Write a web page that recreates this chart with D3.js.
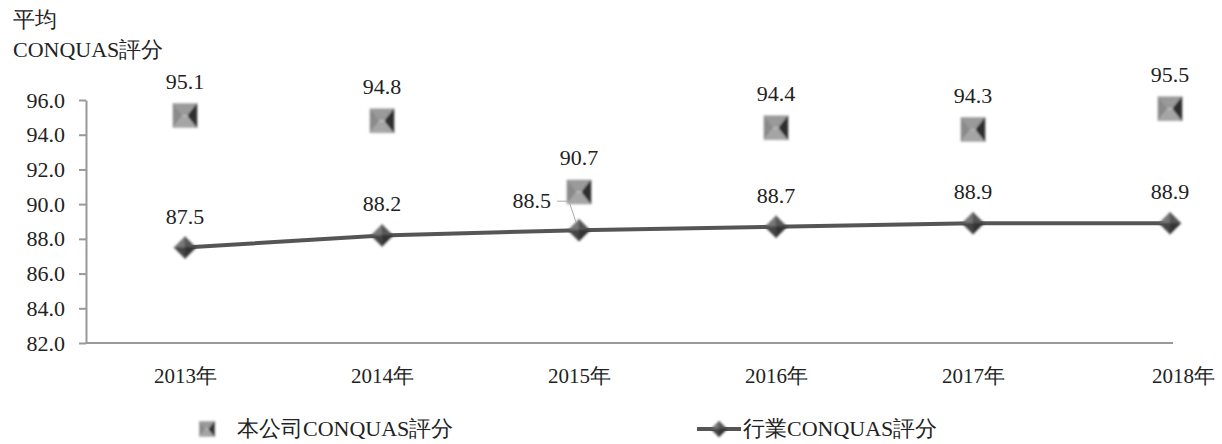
<!DOCTYPE html>
<html><head><meta charset="utf-8">
<script src="https://cdn.jsdelivr.net/npm/d3@7"></script>
<style>body{margin:0;background:#fff}</style>
</head><body>
<svg id="c" width="1222" height="444"></svg>
<script>
const years=["2013年","2014年","2015年","2016年","2017年","2018年"];
const companyScores=[95.1,94.8,90.7,94.4,94.3,95.5];
const industryScores=[87.5,88.2,88.5,88.7,88.9,88.9];
const yTicks=[82,84,86,88,90,92,94,96];
const titleLines=["平均","CONQUAS評分"];
const legendLabels=["本公司CONQUAS評分","行業CONQUAS評分"];

const FONT="'Liberation Serif'";
const svg=d3.select("#c");
const defs=svg.append("defs");
const blur=defs.append("filter").attr("id","soft").attr("x","-30%").attr("y","-30%").attr("width","160%").attr("height","160%");
blur.append("feGaussianBlur").attr("stdDeviation",0.8);

const axisLeftX=86, axisRightX=1173;
const x=d3.scalePoint().domain(years).range([185,1170]);
const y=d3.scaleLinear().domain([82,96]).range([343,100]);

// title
svg.append("g").selectAll("text").data(titleLines).join("text")
  .attr("x",13).attr("y",(d,i)=>27+i*30).attr("font-size",22).text(d=>d);

// y axis
const ya=svg.append("g").attr("transform",`translate(${axisLeftX},0)`)
  .call(d3.axisLeft(y).tickValues(yTicks).tickFormat(d3.format(".1f")).tickSize(7).tickSizeOuter(0).tickPadding(14));
ya.selectAll("path,line").attr("stroke","#999").attr("stroke-width",2);
ya.selectAll("text").attr("font-size",22);

// x axis
const xa=svg.append("g").attr("transform",`translate(0,${y(82)})`)
  .call(d3.axisBottom(x).tickSize(0).tickPadding(25));
xa.select(".domain").attr("d",`M${axisLeftX},0H${axisRightX}`).attr("stroke","#999").attr("stroke-width",2);
xa.selectAll("text").attr("font-size",21)
  .attr("dx",(d,i)=>i===years.length-1?13:0);

// industry line
const ind=years.map((d,i)=>({k:d,v:industryScores[i]}));
const com=years.map((d,i)=>({k:d,v:companyScores[i]}));
svg.append("path").datum(ind).attr("fill","none").attr("stroke","#555").attr("stroke-width",4)
  .attr("d",d3.line().x(d=>x(d.k)).y(d=>y(d.v)));

function diamond(g,cx,cy,r){
  const gg=g.append("g").attr("transform",`translate(${cx},${cy})`).attr("filter","url(#soft)");
  const faces=[
    {p:`M0,0L${-r},0L0,${-r}Z`,c:"#777"},
    {p:`M0,0L0,${-r}L${r},0Z`,c:"#555"},
    {p:`M0,0L${r},0L0,${r}Z`,c:"#333"},
    {p:`M0,0L0,${r}L${-r},0Z`,c:"#444"}];
  gg.selectAll("path").data(faces).join("path").attr("d",d=>d.p).attr("fill",d=>d.c).attr("stroke",d=>d.c).attr("stroke-width",0.5);
}
function pyramid(g,cx,cy,h){
  const gg=g.append("g").attr("transform",`translate(${cx},${cy})`).attr("filter","url(#soft)");
  const i=h*0.25;
  const faces=[
    {p:`M${-h},${-h}L${h},${-h}L${i},${-i*0.2}L${-i},${-i*0.2}Z`,c:"#9a9a9a"},
    {p:`M${-h},${-h}L${-i},${-i*0.2}L${-i},${i*0.2}L${-h},${h}Z`,c:"#8a8a8a"},
    {p:`M${-h},${h}L${-i},${i*0.2}L${i},${i*0.2}L${h},${h}Z`,c:"#a5a5a5"},
    {p:`M${h},${-h}L${i},${-i*0.2}L${i},${i*0.2}L${h},${h}Z`,c:"#2e2e2e"}];
  gg.selectAll("path").data(faces).join("path").attr("d",d=>d.p).attr("fill",d=>d.c).attr("stroke",d=>d.c).attr("stroke-width",0.5);
  gg.append("rect").attr("x",-i).attr("y",-i*0.2).attr("width",2*i).attr("height",i*0.4).attr("fill","#bbb");
}

const mk=svg.append("g");
ind.forEach(d=>diamond(mk,x(d.k),y(d.v),11));
com.forEach(d=>pyramid(mk,x(d.k),y(d.v),12));

// labels
const lab=svg.append("g");
lab.selectAll(".cl").data(com).join("text").attr("class","cl")
  .attr("x",d=>x(d.k)).attr("y",d=>y(d.v)-27).attr("text-anchor","middle").attr("font-size",22).text(d=>d.v.toFixed(1));
lab.selectAll(".il").data(ind).join("text").attr("class","il")
  .attr("x",d=>d.k==="2015年"?x(d.k)-28:x(d.k))
  .attr("y",d=>d.k==="2015年"?y(d.v)-22:y(d.v)-24)
  .attr("text-anchor",d=>d.k==="2015年"?"end":"middle").attr("font-size",22).text(d=>d.v.toFixed(1));
// leader line for 2015 industry label
const k15="2015年", v15=industryScores[2];
svg.append("path").attr("fill","none").attr("stroke","#aaa").attr("stroke-width",1)
  .attr("d",`M${x(k15)-22},${y(v15)-29}H${x(k15)-10}L${x(k15)-3},${y(v15)-8}`);

// legend
const lg=svg.append("g");
pyramid(lg,207,429,7.5);
lg.append("text").attr("x",237).attr("y",436).attr("font-size",22).text(legendLabels[0]);
lg.append("line").attr("x1",697).attr("x2",741).attr("y1",429).attr("y2",429).attr("stroke","#555").attr("stroke-width",4);
diamond(lg,719,429,8);
lg.append("text").attr("x",743).attr("y",436).attr("font-size",22).text(legendLabels[1]);

svg.selectAll("g").attr("font-family",null);
svg.selectAll("text").style("font-family",FONT).style("fill","#222");
</script>
</body></html>
